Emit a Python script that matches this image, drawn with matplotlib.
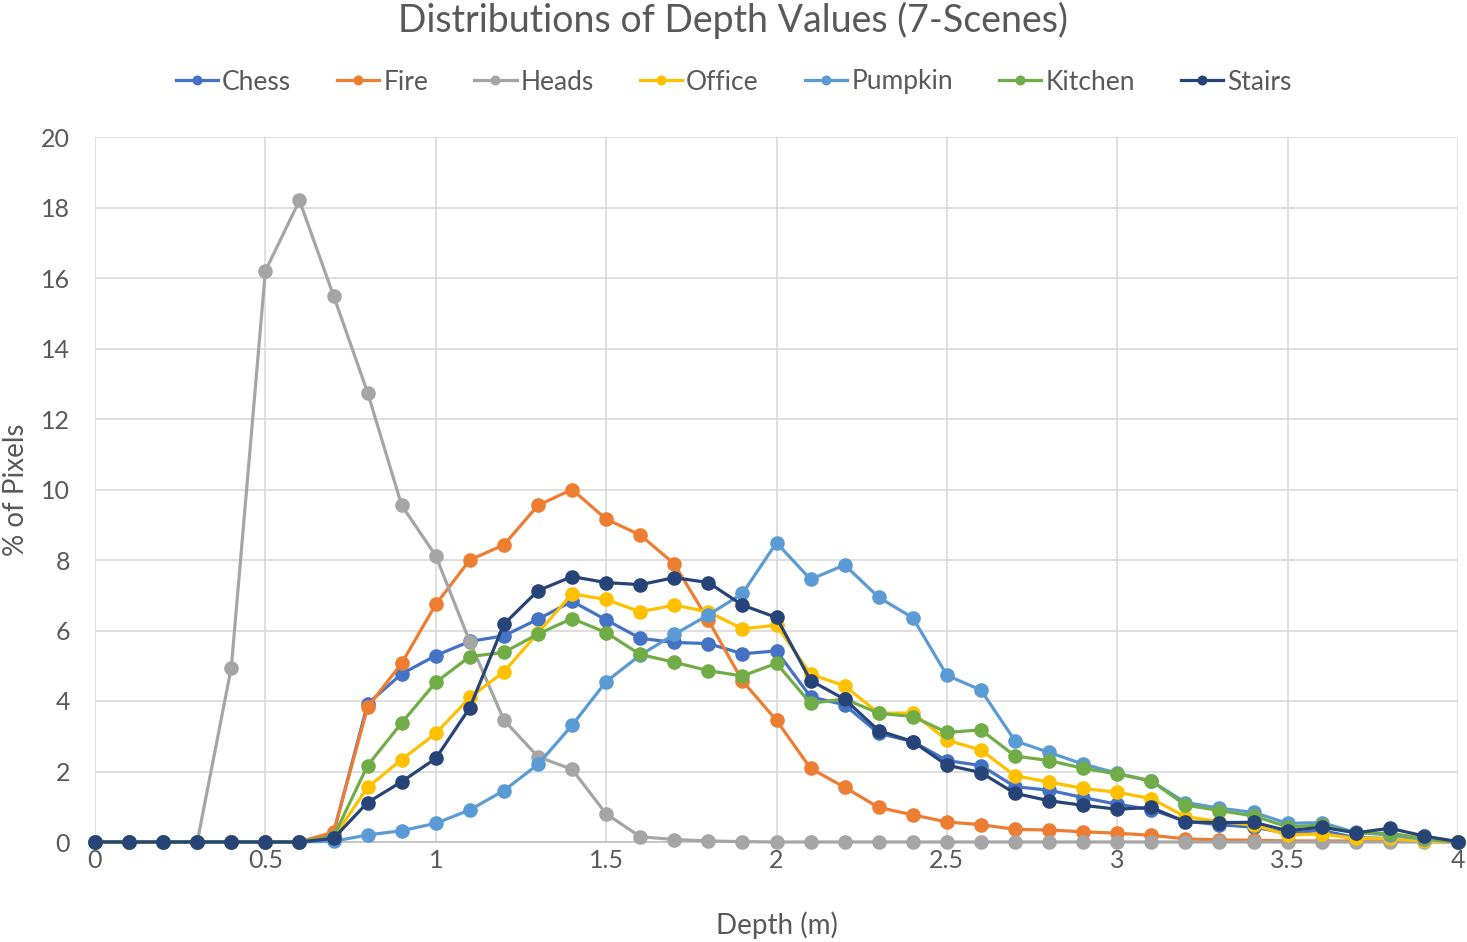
import matplotlib
matplotlib.use("Agg")
import matplotlib.pyplot as plt
import numpy as np

depth = [round(0.1 * i, 1) for i in range(41)]

chess = [0, 0, 0, 0, 0, 0, 0, 0.25, 3.92, 4.77, 5.29, 5.69, 5.85, 6.32, 6.83, 6.30, 5.78, 5.66, 5.63,
         5.34, 5.42, 4.12, 3.89, 3.08, 2.85, 2.31, 2.17, 1.57, 1.47, 1.26, 1.07, 0.92, 0.59, 0.49,
         0.42, 0.25, 0.33, 0.12, 0.10, 0.05, 0]
fire = [0, 0, 0, 0, 0, 0, 0, 0.28, 3.82, 5.07, 6.74, 8.00, 8.43, 9.55, 10.0, 9.16, 8.71, 7.89, 6.29,
        4.57, 3.45, 2.09, 1.55, 0.98, 0.77, 0.57, 0.49, 0.36, 0.34, 0.29, 0.25, 0.19, 0.09, 0.06,
        0.05, 0.03, 0.03, 0.03, 0.03, 0.02, 0]
heads = [0, 0, 0, 0, 4.95, 16.2, 18.2, 15.5, 12.75, 9.55, 8.12, 5.68, 3.46, 2.42, 2.06, 0.80, 0.15,
         0.07, 0.03, 0.01, 0, 0, 0, 0, 0, 0, 0, 0, 0, 0, 0, 0, 0, 0, 0, 0, 0, 0, 0, 0, 0]
office = [0, 0, 0, 0, 0, 0, 0, 0.12, 1.55, 2.34, 3.08, 4.10, 4.83, 5.93, 7.04, 6.88, 6.53, 6.72, 6.53,
          6.05, 6.15, 4.76, 4.43, 3.65, 3.66, 2.89, 2.61, 1.88, 1.70, 1.52, 1.41, 1.23, 0.72, 0.58,
          0.48, 0.20, 0.23, 0.10, 0.10, 0.02, 0]
pumpkin = [0, 0, 0, 0, 0, 0, 0, 0.02, 0.20, 0.32, 0.53, 0.91, 1.46, 2.20, 3.31, 4.55, 5.30, 5.89, 6.44,
           7.05, 8.49, 7.45, 7.86, 6.94, 6.36, 4.73, 4.31, 2.87, 2.54, 2.21, 1.95, 1.73, 1.12, 0.96,
           0.84, 0.53, 0.55, 0.27, 0.20, 0.08, 0]
kitchen = [0, 0, 0, 0, 0, 0, 0, 0.15, 2.17, 3.38, 4.53, 5.26, 5.38, 5.90, 6.34, 5.94, 5.32, 5.10, 4.86,
           4.71, 5.07, 3.93, 4.06, 3.65, 3.56, 3.11, 3.18, 2.44, 2.31, 2.09, 1.93, 1.73, 1.05, 0.89,
           0.74, 0.43, 0.48, 0.25, 0.25, 0.10, 0]
stairs = [0, 0, 0, 0, 0, 0, 0, 0.10, 1.12, 1.71, 2.37, 3.81, 6.18, 7.13, 7.53, 7.36, 7.30, 7.50, 7.36,
          6.72, 6.37, 4.58, 4.05, 3.16, 2.85, 2.18, 1.97, 1.38, 1.17, 1.04, 0.93, 0.98, 0.57, 0.55,
          0.56, 0.32, 0.42, 0.26, 0.39, 0.17, 0.01]

series = [("Chess", chess, "#4472C4"), ("Fire", fire, "#ED7D31"), ("Heads", heads, "#A5A5A5"),
          ("Office", office, "#FFC000"), ("Pumpkin", pumpkin, "#5B9BD5"),
          ("Kitchen", kitchen, "#70AD47"), ("Stairs", stairs, "#264478")]

xticks = [0, 0.5, 1, 1.5, 2, 2.5, 3, 3.5, 4]
xticklabels = ["0", "0.5", "1", "1.5", "2", "2.5", "3", "3.5", "4"]
yticks = list(range(0, 21, 2))

plt.rcParams['font.family'] = ['Lato', 'DejaVu Sans']
txt = "#595959"

W, H = 1467, 942
fig = plt.figure(figsize=(W / 100, H / 100), dpi=100)
x0, x1, y0, y1 = 95, 1458, 137, 842
ax = fig.add_axes([x0 / W, 1 - y1 / H, (x1 - x0) / W, (y1 - y0) / H])

for name, vals, col in series:
    ax.plot(depth, vals, color=col, lw=2.3, marker='o', ms=9.5, label=name, clip_on=False, zorder=3)

ax.set_xlim(0, 4)
ax.set_ylim(0, 20)
ax.set_xticks(xticks)
ax.set_xticklabels(xticklabels)
ax.set_yticks(yticks)
ax.grid(True, color="#D9D9D9", lw=1.2)
ax.set_axisbelow(True)
for s in ax.spines.values():
    s.set_visible(False)
ax.spines['bottom'].set_visible(True)
ax.spines['bottom'].set_color("#BFBFBF")
ax.spines['bottom'].set_linewidth(1.2)
ax.tick_params(axis='x', length=0, labelsize=18, colors=txt, pad=5)
ax.tick_params(axis='y', length=0, labelsize=18, colors=txt, pad=18)
ax.set_xlabel("Depth (m)", fontsize=20, color=txt)
ax.set_ylabel("% of Pixels", fontsize=20, color=txt)
ax.xaxis.set_label_coords((777 - x0) / (x1 - x0), -(925 - y1) / (y1 - y0))
ax.yaxis.set_label_coords(-(95 - 16) / (x1 - x0), (y1 - 490) / (y1 - y0))
ax.xaxis.label.set_va('center')
ax.yaxis.label.set_va('center')

fig.suptitle("Distributions of Depth Values (7-Scenes)", fontsize=27, color=txt, y=0.998)
fig.legend(loc="center", bbox_to_anchor=(0.5, 1 - 82 / H), ncol=7, frameon=False,
           fontsize=19, labelcolor=txt, handlelength=1.6, handletextpad=0.15, columnspacing=1.75,
           markerscale=0.65)

fig.savefig("out.png", dpi=100)
